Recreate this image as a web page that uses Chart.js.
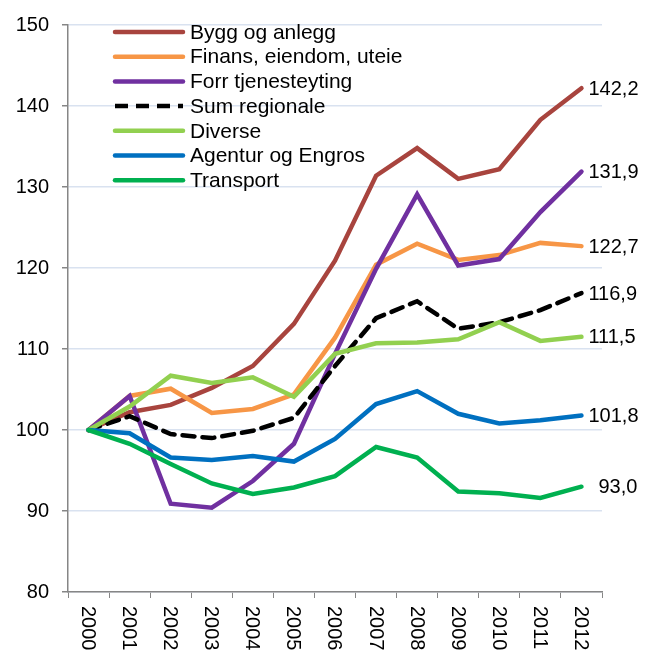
<!DOCTYPE html>
<html>
<head>
<meta charset="utf-8">
<script src="https://cdn.jsdelivr.net/npm/chart.js@4.4.0/dist/chart.umd.min.js"></script>
<style>
  html, body { margin: 0; padding: 0; background: #fff; }
  #wrap { width: 655px; height: 652px; }
</style>
</head>
<body>
<div id="wrap"><canvas id="chart" width="655" height="652"></canvas></div>
<script>
// Indeks 2000 = 100
const years = ['2000', '2001', '2002', '2003', '2004', '2005', '2006', '2007', '2008', '2009', '2010', '2011', '2012'];
const seriesNames = ['Bygg og anlegg', 'Finans, eiendom, uteie', 'Forr tjenesteyting', 'Sum regionale', 'Diverse', 'Agentur og Engros', 'Transport'];

const bygg      = [100, 102.2, 103.1, 105.2, 107.9, 113.1, 120.9, 131.4, 134.8, 131.0, 132.2, 138.3, 142.2];
const finans    = [100, 104.2, 105.1, 102.1, 102.6, 104.4, 111.4, 120.4, 123.0, 121.0, 121.6, 123.1, 122.7];
const forr      = [100, 104.2, 90.9, 90.4, 93.7, 98.3, 109.4, 119.9, 129.1, 120.3, 121.1, 126.9, 131.9];
const sumReg    = [100, 101.7, 99.5, 99.0, 99.9, 101.5, 107.9, 113.8, 115.9, 112.5, 113.3, 114.8, 116.9];
const diverse   = [100, 102.9, 106.7, 105.8, 106.5, 104.1, 109.4, 110.7, 110.8, 111.2, 113.3, 111.0, 111.5];
const agentur   = [100, 99.6, 96.6, 96.3, 96.8, 96.1, 98.9, 103.2, 104.8, 102.0, 100.8, 101.2, 101.8];
const transport = [100, 98.3, 95.8, 93.4, 92.1, 92.9, 94.3, 97.9, 96.6, 92.4, 92.2, 91.6, 93.0];

// verdier som står ved enden av linjene
const endLabels = ['142,2', '122,7', '131,9', '116,9', '111,5', '101,8', '93,0'];

const yTicks = [80, 90, 100, 110, 120, 130, 140, 150];

const colors = ['#A8443E', '#F79646', '#7030A0', '#000000', '#92D050', '#0070C0', '#00B050'];
const values = [bygg, finans, forr, sumReg, diverse, agentur, transport];

const FONT = '"Liberation Sans", Arial, sans-serif';

const datasets = seriesNames.map((name, i) => ({
    label: name,
    data: values[i],
    borderColor: colors[i],
    backgroundColor: colors[i],
    borderWidth: 4.5,
    borderDash: i === 3 ? [12, 8] : [],
    borderCapStyle: 'round',
    pointRadius: 0,
    tension: 0,
    fill: false,
    order: seriesNames.length - i
}));

// Legend, end values and rotated year labels drawn by hand
const customDraw = {
    id: 'customDraw',
    afterDatasetsDraw(chart) {
        const ctx = chart.ctx;
        const x = chart.scales.x;
        const y = chart.scales.y;
        ctx.save();
        ctx.fillStyle = '#000';
        ctx.textBaseline = 'middle';

        // legend
        ctx.font = '21px ' + FONT;
        const lx = 113, lw = 70, ly0 = 32, dy = 24.7;
        seriesNames.forEach((name, i) => {
            const yy = ly0 + i * dy;
            ctx.strokeStyle = colors[i];
            ctx.lineWidth = 4.5;
            ctx.lineCap = i === 3 ? 'butt' : 'round';
            ctx.setLineDash(i === 3 ? [13, 8] : []);
            ctx.beginPath();
            ctx.moveTo(lx + 2, yy);
            ctx.lineTo(lx + lw, yy);
            ctx.stroke();
            ctx.setLineDash([]);
            ctx.textAlign = 'left';
            ctx.fillText(name, lx + lw + 7, yy + 1);
        });

        // end values
        ctx.font = '20px ' + FONT;
        const last = years.length - 1;
        const px = x.getPixelForValue(last);
        endLabels.forEach((t, i) => {
            const extra = i === 6 ? 10 : 0;
            ctx.textAlign = 'left';
            ctx.fillText(t, px + 7 + extra, y.getPixelForValue(values[i][last]) + 1);
        });

        // rotated year labels
        years.forEach((yr, i) => {
            ctx.save();
            ctx.translate(x.getPixelForValue(i), y.bottom + 14);
            ctx.rotate(Math.PI / 2);
            ctx.textAlign = 'left';
            ctx.fillText(yr, 0, 1);
            ctx.restore();
        });
        ctx.restore();
    }
};

new Chart(document.getElementById('chart'), {
    type: 'line',
    data: { labels: years, datasets: datasets },
    options: {
        responsive: false,
        animation: false,
        layout: { padding: { top: 22, right: 53, left: 0, bottom: 0 } },
        plugins: { legend: { display: false }, tooltip: { enabled: false } },
        scales: {
            x: {
                offset: true,
                grid: {
                    offset: true,
                    drawOnChartArea: false,
                    drawTicks: true,
                    tickLength: 6,
                    tickColor: '#868686'
                },
                border: { color: '#868686', width: 1.5 },
                ticks: { display: false },
                afterFit(scale) { scale.height = 60; }
            },
            y: {
                min: 80,
                max: 150,
                afterBuildTicks(scale) { scale.ticks = yTicks.map(v => ({ value: v })); },
                grid: {
                    color: '#D9E2F0',
                    lineWidth: 1.5,
                    tickLength: 6,
                    tickColor: '#868686'
                },
                border: { color: '#868686', width: 1.5 },
                ticks: {
                    color: '#000',
                    font: { family: FONT, size: 20 },
                    padding: 13
                },
                afterFit(scale) { scale.width = 68; }
            }
        }
    },
    plugins: [customDraw]
});
</script>
</body>
</html>
